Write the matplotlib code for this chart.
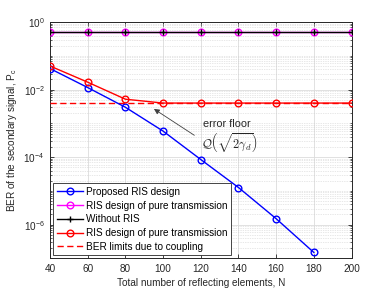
import matplotlib
matplotlib.use("Agg")
import matplotlib.pyplot as plt
from matplotlib.ticker import NullFormatter, FixedLocator

plt.rcParams['font.family'] = ['Liberation Sans', 'DejaVu Sans']

N = [40, 60, 80, 100, 120, 140, 160, 180, 200]
proposed_N = [40, 60, 80, 100, 120, 140, 160, 180]
proposed = [0.042, 0.0115, 0.0030, 5.9e-4, 8.5e-5, 1.26e-5, 1.5e-6, 1.5e-7]
pure_trans = [0.5, 0.5, 0.5, 0.5, 0.5, 0.5, 0.5, 0.5, 0.5]
without_ris = [0.5, 0.5, 0.5, 0.5, 0.5, 0.5, 0.5, 0.5, 0.5]
pure_trans_coupled = [0.050, 0.0166, 0.0052, 0.0040, 0.0040, 0.0040, 0.0040, 0.0040, 0.0040]
ber_limit = [0.0040, 0.0040, 0.0040, 0.0040, 0.0040, 0.0040, 0.0040, 0.0040, 0.0040]

labels = ["Proposed RIS design", "RIS design of pure transmission", "Without RIS",
          "RIS design of pure transmission", "BER limits due to coupling"]

fig = plt.figure(figsize=(3.88, 2.91), dpi=100)
ax = fig.add_axes([0.129, 0.112, 0.777, 0.812])

fs = 7.2
ms = 4.8
lw = 1.0
ax.plot(proposed_N, proposed, color='#0000ff', marker='o', mfc='none', ms=ms, lw=lw, mew=1.0, label=labels[0], zorder=5)
ax.plot(N, pure_trans, color='#ff00ff', marker='o', mfc='none', ms=ms, lw=lw, mew=1.0, label=labels[1], zorder=4)
ax.plot(N, without_ris, color='black', marker='+', ms=ms, lw=lw, mew=1.0, label=labels[2], zorder=5)
ax.plot(N, pure_trans_coupled, color='#ff0000', marker='o', mfc='none', ms=ms, lw=lw, mew=1.0, label=labels[3], zorder=5)
ax.plot(N, ber_limit, color='#ff0000', ls=(0, (4.5, 2.5)), lw=lw, label=labels[4], zorder=4)

ax.set_yscale('log')
ax.set_xlim(40, 200)
ax.set_ylim(1e-7, 1e0)
ax.set_xticks([40, 60, 80, 100, 120, 140, 160, 180, 200])
ax.yaxis.set_major_locator(FixedLocator([1e-6, 1e-4, 1e-2, 1e0]))
minor = []
for e in range(-7, 0):
    for m in range(1, 10):
        v = m * 10.0 ** e
        if v not in (1e-6, 1e-4, 1e-2):
            minor.append(v)
ax.yaxis.set_minor_locator(FixedLocator(minor))
ax.yaxis.set_minor_formatter(NullFormatter())

ax.tick_params(which='both', direction='in', top=True, right=True, labelsize=fs, colors='#262626')
ax.tick_params(which='major', length=3, width=0.6, pad=4)
ax.tick_params(which='minor', length=1.6, width=0.5)
ax.grid(True, which='major', color='#dcdcdc', lw=0.6, ls='-')
ax.grid(True, which='minor', axis='y', color='#d0d0d0', lw=0.5, ls=(0, (1, 1.5)))
ax.set_axisbelow(True)
for s in ax.spines.values():
    s.set_color('#262626')
    s.set_linewidth(0.7)

ax.set_xlabel("Total number of reflecting elements, N", fontsize=fs, color='#262626', labelpad=3)
ax.set_ylabel(r"BER of the secondary signal, P$_\mathregular{c}$", fontsize=fs, color='#262626', labelpad=3)

ax.annotate("", xy=(93.9, 2.97e-3), xytext=(117.8, 4.0e-4),
            arrowprops=dict(arrowstyle='-|>', color='#404040', lw=0.6, mutation_scale=8))
ax.text(134, 9.3e-4, "error floor", fontsize=7.8, ha='center', va='center', color='#262626')
ax.text(135, 2.8e-4, r"$\mathcal{Q}\left(\sqrt{2\gamma_d}\right)$", fontsize=8.8, ha='center',
        va='center', color='#262626', math_fontfamily='cm')

leg = ax.legend(loc='lower left', fontsize=fs, frameon=True, fancybox=False, edgecolor='#262626',
                framealpha=1, handlelength=2.6, handletextpad=0.3, borderpad=0.35, labelspacing=0.38,
                borderaxespad=0.3)
leg.get_frame().set_linewidth(0.6)

fig.savefig("out.png", dpi=100)
